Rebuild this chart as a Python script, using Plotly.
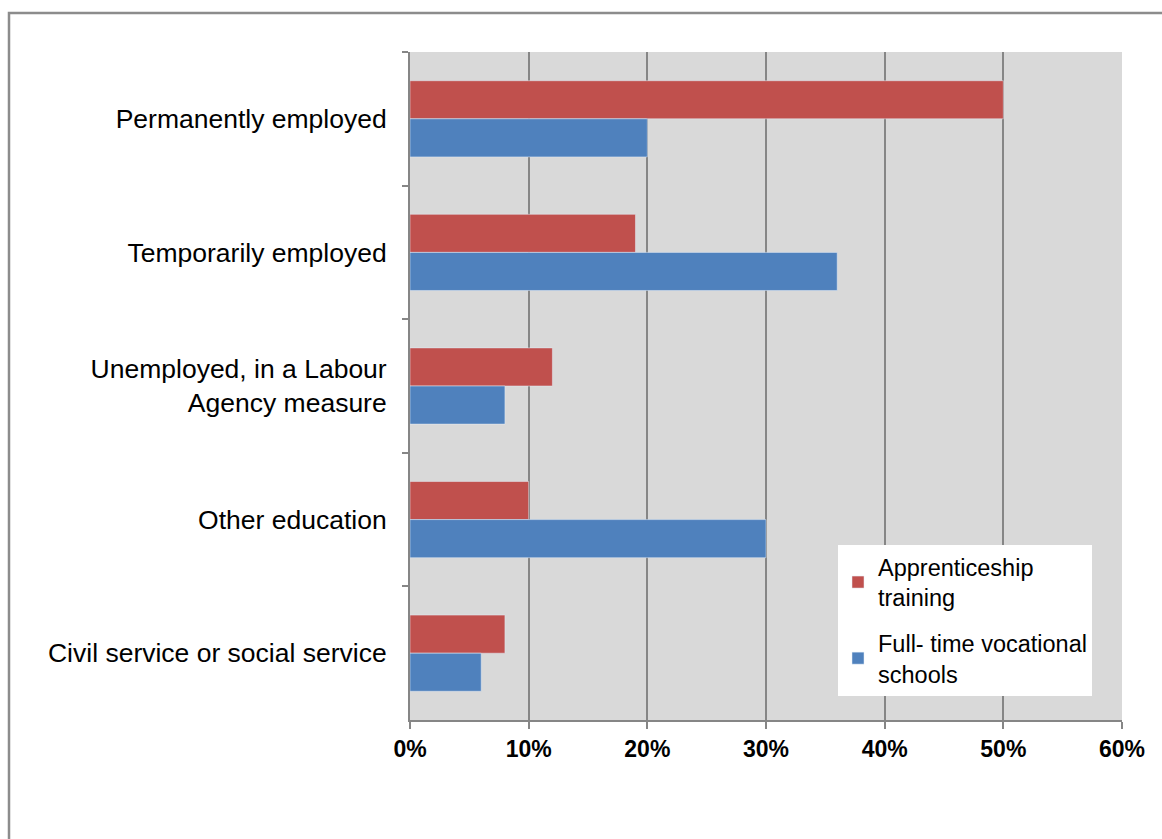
import plotly.graph_objects as go

categories = ["Permanently employed", "Temporarily employed",
              "Unemployed, in a Labour<br>Agency measure", "Other education",
              "Civil service or social service"]
apprenticeship = [0.50, 0.19, 0.12, 0.10, 0.08]
fulltime = [0.20, 0.36, 0.08, 0.30, 0.06]
series_names = ["Apprenticeship<br>training", "Full- time vocational<br>schools"]
x_ticks = [0, 0.1, 0.2, 0.3, 0.4, 0.5, 0.6]
x_ticklabels = ["0%", "10%", "20%", "30%", "40%", "50%", "60%"]

W, H = 1162, 839
L, R, T, B = 410, 40, 52, 119
pw, ph = W - L - R, H - T - B

def px(X):
    return (X - L) / pw

def py(Y):
    return (H - B - Y) / ph

fig = go.Figure()
fig.add_trace(go.Bar(y=categories, x=apprenticeship, orientation="h",
                     name=series_names[0], legendgroup="a",
                     marker=dict(color="#c0504d")))
fig.add_trace(go.Bar(y=categories, x=fulltime, orientation="h",
                     name=series_names[1], legendgroup="b",
                     marker=dict(color="#4f81bd")))

fig.update_layout(
    width=W, height=H,
    margin=dict(l=L, r=R, t=T, b=B),
    paper_bgcolor="white", plot_bgcolor="#d9d9d9",
    barmode="group", bargap=0.43, bargroupgap=0,
    font=dict(family="Liberation Sans, Arial", size=20, color="black"),
    showlegend=True,
    legend=dict(x=px(838), y=py(545), xanchor="left", yanchor="top",
                bgcolor="white", font=dict(size=23.5), tracegroupgap=12,
                itemwidth=30),
    xaxis=dict(range=[0, 0.6], tickvals=x_ticks, ticktext=x_ticklabels,
               showgrid=True, gridcolor="#868686", gridwidth=2,
               showline=True, linecolor="#868686", linewidth=2,
               ticks="outside", ticklen=7, tickcolor="#868686", tickwidth=2,
               tickfont=dict(size=23, family="Liberation Sans, Arial", weight="bold"),
               zeroline=False),
    yaxis=dict(autorange="reversed", type="category",
               showline=True, linecolor="#868686", linewidth=2,
               ticks="outside", ticklen=6, tickcolor="#868686", tickwidth=2,
               tickson="boundaries", showgrid=False,
               ticklabelstandoff=16,
               tickfont=dict(size=26.5)),
    shapes=[dict(type="rect", xref="paper", yref="paper",
                 x0=px(9), x1=px(1175), y0=py(850), y1=py(13),
                 line=dict(color="#8c8c8c", width=2.5), fillcolor="rgba(0,0,0,0)",
                 layer="below")],
)

fig.write_html("out.html")
